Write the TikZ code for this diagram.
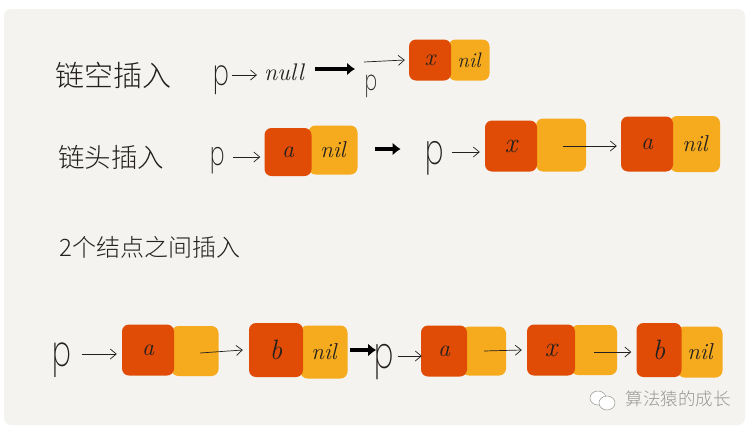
\documentclass[tikz,border=0pt]{standalone}
\usepackage{fontspec}
\usepackage{xcolor}
\usetikzlibrary{arrows.meta,shapes.geometric}
\newfontfamily\cjk{Noto Sans CJK SC Light}
\newfontfamily\thinhand{Poppins ExtraLight}
\definecolor{panelbg}{RGB}{244,243,239}
\definecolor{headcol}{RGB}{224,76,6}
\definecolor{nextcol}{RGB}{246,171,30}
\definecolor{inkcol}{RGB}{35,32,30}
\definecolor{marksgr}{RGB}{150,150,147}
\newcommand{\ptrname}{\scalebox{.65}[1]{p}}

\tikzset{
  headbox/.style={fill=headcol, rounded corners=7pt, inner sep=0pt, text=inkcol,
    font=\fontsize{24}{24}\itshape},
  nextbox/.style={fill=nextcol, rounded corners=7pt, inner sep=0pt, text=inkcol,
    font=\fontsize{23}{23}\itshape},
  pointer/.style={inner sep=0pt, text=inkcol, font=\thinhand\fontsize{#1}{#1}\selectfont},
  hand/.style={inner sep=0pt, text=inkcol, font=\cjk\fontsize{#1}{#1}\selectfont},
  thinarrow/.style={draw=inkcol, line width=0.7pt, -{Straight Barb[length=6pt,width=10pt]}},
  fatarrow/.style={draw=black, line width=4pt, -{Latex[length=8pt,width=13pt]}}
}

\begin{document}
\begin{tikzpicture}[x=1pt, y=-1pt]
    \useasboundingbox (0,0) rectangle (756,432);
    % Panel
    \fill[white] (0,0) rectangle (756,432);
    \fill[panelbg, rounded corners=7pt] (4,9) rectangle (745,425);

    % Empty list
    \node[hand=29] (title1) at (114,75) {链空插入};
    \node[pointer=36] (p1) at (221,80) {\ptrname};
    \node[inner sep=0pt, text=inkcol, font=\fontsize{24}{24}\itshape] (null1) at (284,72) {null};
    \coordinate (fat1) at (355,69);
    \coordinate (start1) at (364,62);
    \node[pointer=28] (q1) at (371,86) {\ptrname};
    \node[nextbox, font=\fontsize{21}{21}\itshape, minimum width=41pt, minimum height=41pt] (nil1) at (469,60) {nil};
    \node[headbox, minimum width=42pt, minimum height=41pt] (x1) at (430,60) {x};
    \draw[thinarrow] ([xshift=3pt,yshift=5pt]p1.east) -- ([xshift=-7pt,yshift=-3pt]null1.west);
    \draw[fatarrow] ([xshift=11pt,yshift=3pt]null1.east) -- (fat1);
    \draw[thinarrow] (start1) -- ([xshift=-4pt]x1.west);

    % Head of the list
    \node[hand=26.5] (title2) at (111,157) {链头插入};
    \node[pointer=33] (p2) at (218,161) {\ptrname};
    \node[nextbox, minimum width=49pt, minimum height=49pt] (nil2) at (333,150) {nil};
    \node[headbox, minimum width=47pt, minimum height=48pt] (a2) at (288,152) {a};
    \node[pointer=42] (q2) at (435,158) {\ptrname};
    \node[nextbox, minimum width=50pt, minimum height=53pt] (next2) at (561,145) {};
    \node[headbox, font=\fontsize{28}{28}\itshape, minimum width=52pt, minimum height=51pt] (x2) at (511,146) {x};
    \node[nextbox, minimum width=50pt, minimum height=56pt] (nil3) at (695,144) {nil};
    \node[headbox, minimum width=52pt, minimum height=55pt] (a3) at (647,144) {a};
    \draw[thinarrow] ([xshift=8pt,yshift=4pt]p2.east) -- ([xshift=-4pt,yshift=-5pt]a2.west);
    \draw[fatarrow] ([xshift=17pt,yshift=1pt]nil2.east) -- ([xshift=-25pt,yshift=9pt]q2.west);
    \draw[thinarrow] ([xshift=8pt,yshift=6pt]q2.east) -- ([xshift=-5pt,yshift=-6pt]x2.west);
    \draw[thinarrow] ([xshift=2pt,yshift=-1pt]next2.center) -- ([xshift=-4pt,yshift=-2pt]a3.west);

    % Between two nodes
    \node[hand=24] (title3) at (150,247) {2个结点之间插入};
    \node[pointer=43] (p3) at (62,360) {\ptrname};
    \node[nextbox, minimum width=47pt, minimum height=50pt] (next3) at (195,351) {};
    \node[headbox, minimum width=52pt, minimum height=51pt] (a4) at (148,350) {a};
    \node[nextbox, minimum width=47pt, minimum height=53pt] (nil4) at (324,352) {nil};
    \node[headbox, font=\fontsize{28}{28}\itshape, minimum width=54pt, minimum height=54pt] (b4) at (276,350) {b};
    \node[pointer=44] (q3) at (384,362) {\ptrname};
    \node[nextbox, minimum width=44pt, minimum height=49pt] (next5) at (484,351) {};
    \node[headbox, minimum width=46pt, minimum height=51pt] (a5) at (444,351) {a};
    \node[nextbox, minimum width=46pt, minimum height=50pt] (next6) at (594,350) {};
    \node[headbox, font=\fontsize{28}{28}\itshape, minimum width=48pt, minimum height=51pt] (x6) at (551,350) {x};
    \node[nextbox, minimum width=45pt, minimum height=51pt] (nil7) at (700,352) {nil};
    \node[headbox, font=\fontsize{28}{28}\itshape, minimum width=45pt, minimum height=54pt] (b7) at (659,350) {b};
    \draw[thinarrow] ([xshift=10pt,yshift=6pt]p3.east) -- ([xshift=-5pt,yshift=-4pt]a4.west);
    \draw[thinarrow] ([xshift=5pt,yshift=-2pt]next3.center) -- ([xshift=-6pt]b4.west);
    \draw[fatarrow] ([xshift=2pt,yshift=2pt]nil4.east) -- ([xshift=2pt,yshift=12pt]q3.west);
    \draw[thinarrow] ([xshift=4pt,yshift=6pt]q3.east) -- ([xshift=1pt,yshift=-5pt]a5.west);
    \draw[thinarrow] (next5.center) -- ([xshift=-5pt]x6.west);
    \draw[thinarrow] ([yshift=-2pt]next6.center) -- ([xshift=-5pt,yshift=-2pt]b7.west);

    % Watermark
    \fill[white, draw=marksgr, line width=0.5pt] (598,398) ellipse (8pt and 7pt);
    \fill[white, draw=marksgr, line width=0.5pt] (607,403) ellipse (8pt and 7pt);
    \node[inner sep=0pt, text=marksgr, font=\cjk\fontsize{17.5}{17.5}\selectfont] (mark) at (678,399) {算法猿的成长};
  \end{tikzpicture}
\end{document}
